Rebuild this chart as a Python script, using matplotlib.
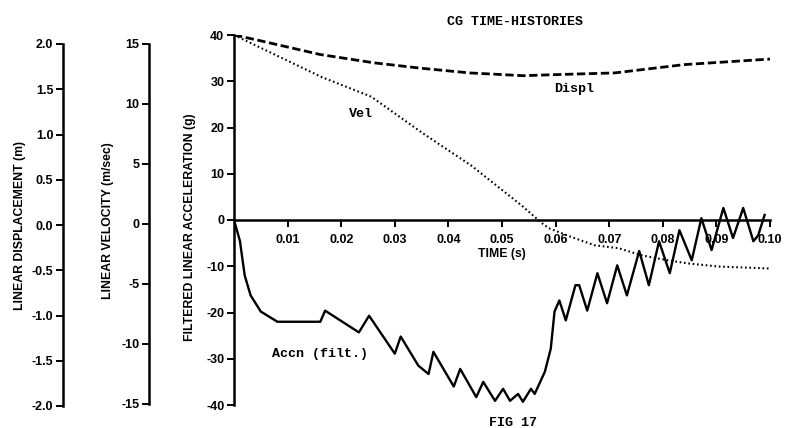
import numpy as np
import matplotlib
matplotlib.use("Agg")
from matplotlib import pyplot as plt

# time axis (s) and the three CG time-histories
accn_t = [0, 0.0011, 0.002, 0.0031, 0.005, 0.0081, 0.0113, 0.0161, 0.017, 0.0233,
          0.0252, 0.030, 0.0311, 0.0344, 0.0363, 0.0372, 0.041, 0.0422, 0.0452, 0.0465,
          0.0487, 0.0502, 0.0515, 0.053, 0.0539, 0.0554, 0.0561, 0.058, 0.0591, 0.0598,
          0.0607, 0.0619, 0.0637, 0.0644, 0.0659, 0.0678, 0.0696, 0.0715, 0.0733, 0.0756,
          0.0774, 0.0793, 0.0813, 0.0831, 0.0854, 0.0872, 0.0891, 0.0913, 0.0931, 0.095,
          0.0969, 0.0978, 0.0990]
accn_g = [0, -4.5, -12, -16.3, -19.8, -22, -22, -22, -19.6, -24.3,
          -20.7, -28.9, -25.2, -31.5, -33.3, -28.5, -36, -32.2, -38.3, -35,
          -39.1, -36.5, -39.1, -37.6, -39.3, -36.5, -37.6, -32.8, -27.8, -19.8,
          -17.4, -21.7, -14.1, -14.1, -19.6, -11.5, -18, -9.8, -16.3, -6.7,
          -14.1, -4.6, -11.5, -2.2, -8.7, 0.4, -6.5, 2.6, -3.9, 2.6,
          -4.6, -3.3, 1.1]

vel_t = [0, 0.0163, 0.0256, 0.035, 0.0443, 0.0536, 0.0574, 0.0587, 0.0630, 0.0673,
         0.0718, 0.0761, 0.0811, 0.0847, 0.0903, 0.0998]
vel_ms = [15.0, 11.6, 10.0, 7.1, 4.4, 1.2, -0.24, -0.66, -1.39, -2.05,
          -2.29, -2.87, -3.28, -3.52, -3.77, -3.93]

displ_t = [0, 0.004, 0.016, 0.026, 0.035, 0.044, 0.054, 0.059, 0.071, 0.084, 0.100]
displ_m = [2.0, 1.95, 1.79, 1.70, 1.64, 1.59, 1.56, 1.57, 1.59, 1.68, 1.74]

time_ticks = [0.01, 0.02, 0.03, 0.04, 0.05, 0.06, 0.07, 0.08, 0.09, 0.10]
accn_ticks = [-40, -30, -20, -10, 0, 10, 20, 30, 40]
vel_ticks = [-15, -10, -5, 0, 5, 10, 15]
displ_ticks = [-2.0, -1.5, -1.0, -0.5, 0.0, 0.5, 1.0, 1.5, 2.0]

W, H = 787, 428
SANS = "Liberation Sans"
MONO = "Liberation Mono"
tick_font = dict(family=SANS, weight="bold", size=9)

fig = plt.figure(figsize=(W / 100, H / 100), dpi=100)


def px_rect(x0, x1, y_top, y_bot):
	# pixel box -> figure fraction
	return [x0 / W, 1 - y_bot / H, (x1 - x0) / W, (y_bot - y_top) / H]


def side_axis(x, y_top, y_bot, lim, ticks, fmt):
	a = fig.add_axes(px_rect(x, x + 1, y_top, y_bot))
	a.patch.set_visible(False)
	for s in ("top", "right", "bottom"):
		a.spines[s].set_visible(False)
	a.spines["left"].set_linewidth(1.8)
	a.set_xticks([])
	a.set_ylim(*lim)
	a.set_yticks(ticks)
	a.set_yticklabels([fmt.format(v) for v in ticks], fontdict=tick_font)
	a.tick_params(axis="y", direction="out", length=5, width=1.4, pad=2)
	return a


side_axis(63, 44, 406, (-2.0, 2.0), displ_ticks, "{:.1f}")
side_axis(149, 44, 404, (-15, 15), vel_ticks, "{:d}")

ax = fig.add_axes(px_rect(234, 770, 35, 405))
ax.patch.set_visible(False)
ax.set_xlim(0, 0.1)
ax.set_ylim(-40, 40)
ax.spines["top"].set_visible(False)
ax.spines["right"].set_visible(False)
ax.spines["bottom"].set_position(("data", 0))
ax.spines["bottom"].set_linewidth(1.8)
ax.spines["left"].set_linewidth(1.8)
ax.set_xticks(time_ticks)
ax.set_xticklabels(["{:.2f}".format(v) for v in time_ticks], fontdict=tick_font)
ax.set_yticks(accn_ticks)
ax.set_yticklabels([str(v) for v in accn_ticks], fontdict=tick_font)
ax.tick_params(axis="both", direction="out", length=5, width=1.4)
ax.tick_params(axis="x", pad=5)
ax.tick_params(axis="y", pad=2)

ax.plot(accn_t, accn_g, color="black", lw=1.7, solid_joinstyle="round")

# displacement and velocity drawn in their own units on overlaid scales
axd = ax.twinx()
axd.set_ylim(-2.0, 2.0)
axd.axis("off")
axd.plot(displ_t, displ_m, color="black", lw=2.0, dashes=(3, 1.3))

axv = ax.twinx()
axv.set_ylim(-15, 15)
axv.axis("off")
axv.plot(vel_t, vel_ms, color="black", lw=1.5, dashes=(0.8, 1.3))

mono = dict(family=MONO, weight="bold", size=9.6, ha="center", va="center")
fig.text(515 / W, 1 - 22 / H, "CG TIME-HISTORIES", **mono)
fig.text(361 / W, 1 - 114 / H, "Vel", **mono)
fig.text(574 / W, 1 - 89 / H, "Displ", **mono)
fig.text(320 / W, 1 - 354 / H, "Accn (filt.)", **mono)
fig.text(513 / W, 1 - 423 / H, "FIG 17", **mono)

lab = dict(family=SANS, weight="bold", size=8.8, ha="center", va="center")
fig.text(502 / W, 1 - 254 / H, "TIME (s)", **lab)
fig.text(20 / W, 1 - 226 / H, "LINEAR DISPLACEMENT (m)", rotation=90, **lab)
fig.text(108 / W, 1 - 221 / H, "LINEAR VELOCITY (m/sec)", rotation=90, **lab)
fig.text(190 / W, 1 - 227 / H, "FILTERED LINEAR ACCELERATION (g)", rotation=90, **lab)

fig.savefig("out.png", dpi=100)
